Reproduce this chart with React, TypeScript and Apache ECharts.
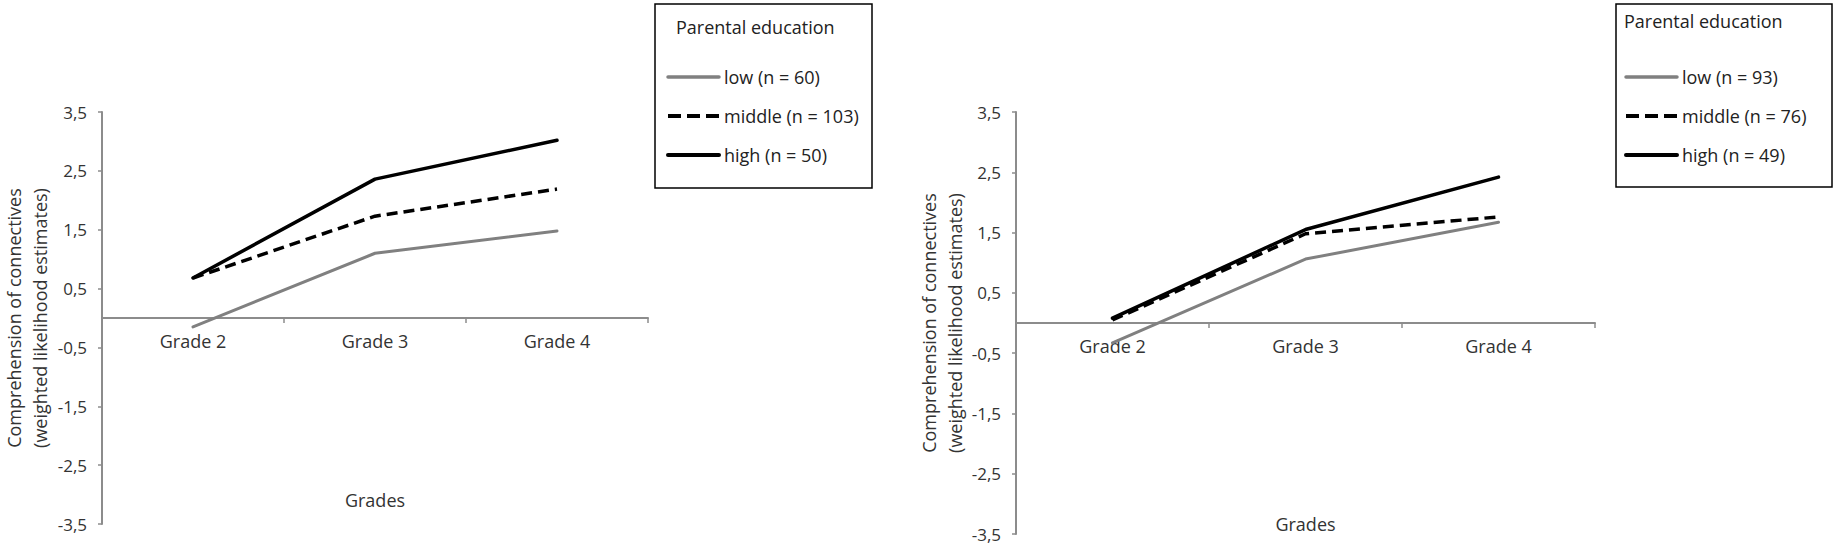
import React, { useEffect, useRef } from "react";
import * as echarts from "echarts";

const categories = ["Grade 2", "Grade 3", "Grade 4"];
const yTickValues = [-3.5, -2.5, -1.5, -0.5, 0.5, 1.5, 2.5, 3.5];

const leftNames = ["low (n = 60)", "middle (n = 103)", "high (n = 50)"];
const leftLow = [-0.15, 1.1, 1.48];
const leftMiddle = [0.68, 1.73, 2.19];
const leftHigh = [0.68, 2.36, 3.02];

const rightNames = ["low (n = 93)", "middle (n = 76)", "high (n = 49)"];
const rightLow = [-0.33, 1.06, 1.67];
const rightMiddle = [0.05, 1.48, 1.76];
const rightHigh = [0.08, 1.55, 2.42];

const legendTitle = "Parental education";
const yAxisTitle = "Comprehension of connectives\n(weighted likelihood estimates)";
const xAxisTitle = "Grades";

const FONT = "Open Sans";
const AXIS_COLOR = "#8c8c8c";
const TEXT_COLOR = "#333333";
const LOW_COLOR = "#808080";

const lowStyle = { color: LOW_COLOR, width: 3, cap: "round" };
const middleStyle = { color: "#000000", width: 3.5, type: [11, 6] };
const highStyle = { color: "#000000", width: 3.5, cap: "round" };

// offset moves the category axis from the grid bottom up to the y = 0 position
function makeXAxis(gridIndex: number, offset: number, nameGap: number) {
  return {
    type: "category",
    gridIndex,
    position: "bottom",
    offset,
    data: categories,
    boundaryGap: true,
    axisLine: { show: true, onZero: false, lineStyle: { color: AXIS_COLOR, width: 2 } },
    axisTick: { show: true, length: 5, lineStyle: { color: AXIS_COLOR, width: 1.5 } },
    axisLabel: { margin: 14, fontSize: 18, color: TEXT_COLOR, fontFamily: FONT },
    splitLine: { show: false },
    name: xAxisTitle,
    nameLocation: "middle",
    nameGap,
    nameTextStyle: { fontSize: 18, color: TEXT_COLOR, fontFamily: FONT },
  };
}

function makeYAxis(gridIndex: number, nameGap: number) {
  return {
    type: "value",
    gridIndex,
    min: -3.5,
    max: 3.5,
    axisLine: { show: true, onZero: false, lineStyle: { color: AXIS_COLOR, width: 2 } },
    axisTick: {
      show: true,
      length: 4,
      customValues: yTickValues,
      lineStyle: { color: AXIS_COLOR, width: 1.5 },
    },
    axisLabel: {
      customValues: yTickValues,
      margin: 15,
      fontSize: 17,
      color: TEXT_COLOR,
      fontFamily: FONT,
      formatter: (v: number) => String(v).replace(".", ","),
    },
    splitLine: { show: false },
    name: yAxisTitle,
    nameLocation: "middle",
    nameGap,
    nameTextStyle: { fontSize: 18, lineHeight: 26, color: TEXT_COLOR, fontFamily: FONT },
  };
}

function makeSeries(names: string[], low: number[], middle: number[], high: number[], idx: number) {
  return [
    {
      name: names[0],
      type: "line",
      xAxisIndex: idx,
      yAxisIndex: idx,
      data: low,
      symbol: "none",
      lineStyle: lowStyle,
      itemStyle: { color: LOW_COLOR },
    },
    {
      name: names[1],
      type: "line",
      xAxisIndex: idx,
      yAxisIndex: idx,
      data: middle,
      symbol: "none",
      lineStyle: middleStyle,
      itemStyle: { color: "#000000" },
    },
    {
      name: names[2],
      type: "line",
      xAxisIndex: idx,
      yAxisIndex: idx,
      data: high,
      symbol: "none",
      lineStyle: highStyle,
      itemStyle: { color: "#000000" },
    },
  ];
}

function makeLegend(names: string[], left: number) {
  return {
    orient: "vertical",
    left,
    top: 68,
    itemWidth: 51,
    itemHeight: 14,
    itemGap: 21,
    padding: 0,
    data: [
      { name: names[0], lineStyle: { ...lowStyle, width: 3.5 } },
      { name: names[1], lineStyle: { ...middleStyle, width: 4, type: [13, 6] } },
      { name: names[2], lineStyle: { ...highStyle, width: 4 } },
    ],
    selectedMode: false,
    itemStyle: { opacity: 0, borderWidth: 0 },
    textStyle: { fontSize: 18, color: "#222222", fontFamily: FONT },
  };
}

export default function App() {
  const ref = useRef<HTMLDivElement>(null);

  useEffect(() => {
    if (!ref.current) return;
    const chart = echarts.init(ref.current, undefined, { renderer: "svg" });
    chart.setOption({
      animation: false,
      backgroundColor: "#ffffff",
      textStyle: { fontFamily: FONT },
      grid: [
        { left: 102, top: 112, width: 546, height: 412, outerBoundsMode: "none", containLabel: false },
        { left: 1016, top: 112, width: 579, height: 422, outerBoundsMode: "none", containLabel: false },
      ],
      xAxis: [makeXAxis(0, -206, 173), makeXAxis(1, -211, 192)],
      yAxis: [makeYAxis(0, 49), makeYAxis(1, 47)],
      legend: [makeLegend(leftNames, 666), makeLegend(rightNames, 1624)],
      series: [
        ...makeSeries(leftNames, leftLow, leftMiddle, leftHigh, 0),
        ...makeSeries(rightNames, rightLow, rightMiddle, rightHigh, 1),
      ],
      graphic: [
        {
          type: "rect",
          shape: { x: 655, y: 4, width: 217, height: 184 },
          style: { fill: "none", stroke: "#000000", lineWidth: 1.5 },
        },
        {
          type: "text",
          x: 676,
          y: 27,
          style: {
            text: legendTitle,
            fontSize: 18,
            fontFamily: FONT,
            fill: "#222222",
            textVerticalAlign: "middle",
          },
        },
        {
          type: "rect",
          shape: { x: 1616, y: 4, width: 216, height: 183 },
          style: { fill: "none", stroke: "#000000", lineWidth: 1.5 },
        },
        {
          type: "text",
          x: 1624,
          y: 21,
          style: {
            text: legendTitle,
            fontSize: 18,
            fontFamily: FONT,
            fill: "#222222",
            textVerticalAlign: "middle",
          },
        },
      ],
    });
    return () => chart.dispose();
  }, []);

  return (
    <div
      ref={ref}
      style={{ position: "absolute", left: 0, top: 0, width: 1838, height: 547 }}
    />
  );
}
